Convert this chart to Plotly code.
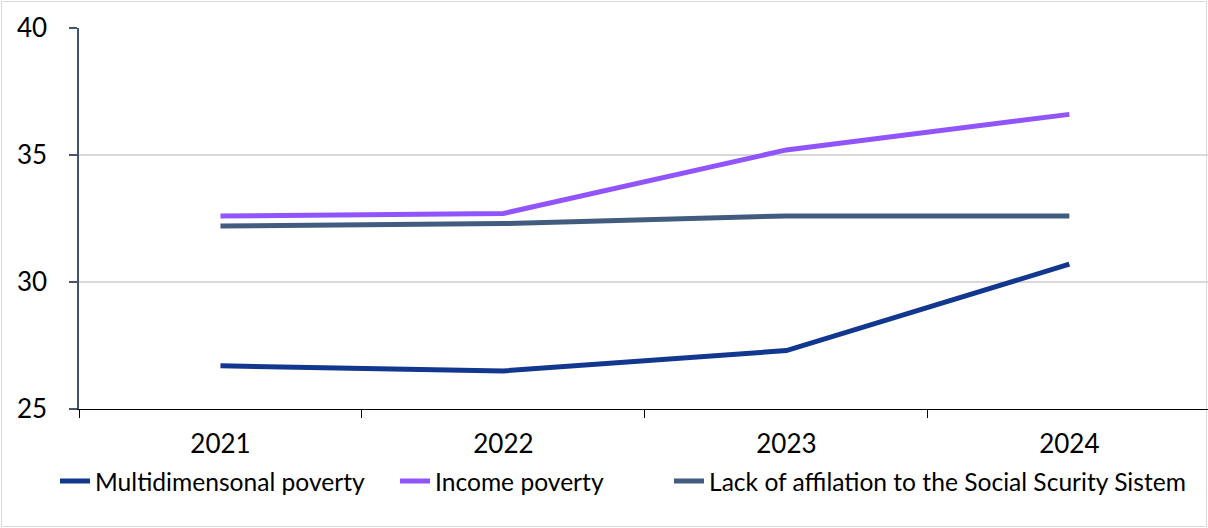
import plotly.graph_objects as go

years = ["2021", "2022", "2023", "2024"]
multidimensional = [26.7, 26.5, 27.3, 30.7]
income = [32.6, 32.7, 35.2, 36.6]
lack_affiliation = [32.2, 32.3, 32.6, 32.6]

series_names = [
    "Multidimensonal poverty",
    "Income poverty",
    "Lack of affilation to the Social Scurity Sistem",
]
colors = ["#12378F", "#9155FF", "#425C80"]
font_family = "Lato, Carlito, Calibri, sans-serif"

L, T = 79, 28
W, H = 1208, 528
pw = W - L
ph = 409 - T

legend_ids = ["legend", "legend2", "legend3"]
legend_text_x = [95, 435, 709]

fig = go.Figure()
for name, vals, col, lid in zip(series_names, [multidimensional, income, lack_affiliation], colors, legend_ids):
    fig.add_trace(go.Scatter(
        x=years, y=vals, name=name, mode="lines",
        line=dict(color=col, width=5),
        legend=lid,
    ))


def px2x(p):
    return (p - L) / pw


def py2y(p):
    return (409 - p) / ph


fig.add_shape(type="rect", xref="paper", yref="paper",
              x0=px2x(1.5), x1=px2x(1206.5), y0=py2y(526.5), y1=py2y(1.5),
              line=dict(color="#D9D9D9", width=1), fillcolor="rgba(0,0,0,0)", layer="below")

legend_common = dict(
    orientation="h", xref="container", yref="container",
    xanchor="left", y=1 - 481 / H, yanchor="middle",
    font=dict(size=24.6, family=font_family, color="#000000"),
    bgcolor="rgba(0,0,0,0)",
)
legends = {}
for lid, tx in zip(legend_ids, legend_text_x):
    legends[lid] = dict(legend_common, x=(tx - 40) / W)

fig.update_layout(
    width=W, height=H,
    margin=dict(l=L, r=0, t=T, b=H - 409, autoexpand=False),
    paper_bgcolor="white", plot_bgcolor="white",
    font=dict(family=font_family, size=26, color="#000000"),
    showlegend=True,
    xaxis=dict(
        type="category", range=[-0.5, 3.49],
        showgrid=False, showline=True, linecolor="#000000", linewidth=1.2,
        ticks="outside", tickson="boundaries", ticklen=8, tickcolor="#000000",
        tickwidth=1, ticklabelstandoff=12,
        tickfont=dict(size=26, family=font_family),
        zeroline=False,
    ),
    yaxis=dict(
        range=[25, 40], tickvals=[25, 30, 35, 40],
        showgrid=True, gridcolor="#D9D9D9", gridwidth=1.5,
        showline=True, linecolor="#44546A", linewidth=1.5,
        ticks="outside", ticklen=8, tickcolor="#44546A", tickwidth=1.5,
        ticklabelstandoff=17,
        tickfont=dict(size=26, family=font_family),
        zeroline=False,
    ),
    **legends,
)

fig.write_html("out.html")
